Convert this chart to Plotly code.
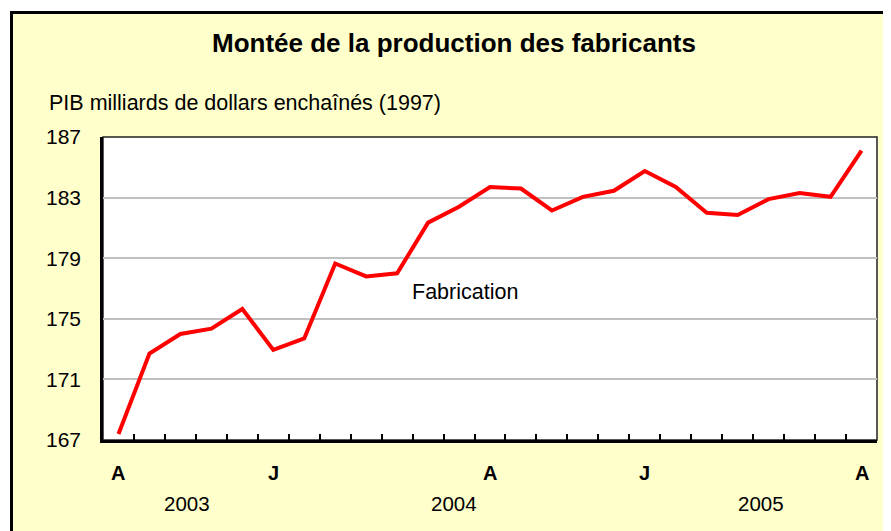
import plotly.graph_objects as go

# ---- data ----
months = ["2003-04", "2003-05", "2003-06", "2003-07", "2003-08", "2003-09", "2003-10",
          "2003-11", "2003-12", "2004-01", "2004-02", "2004-03", "2004-04", "2004-05",
          "2004-06", "2004-07", "2004-08", "2004-09", "2004-10", "2004-11", "2004-12",
          "2005-01", "2005-02", "2005-03", "2005-04"]
fabrication = [167.4, 172.7, 174.0, 174.35, 175.65, 172.95, 173.7, 178.65, 177.8, 178.0,
               181.35, 182.4, 183.7, 183.6, 182.15, 183.05, 183.45, 184.75, 183.7, 182.0,
               181.85, 182.9, 183.3, 183.05, 186.1]
month_letters = ["A", "J", "A", "J", "A"]
month_letter_at = ["2003-04", "2003-09", "2004-04", "2004-09", "2005-04"]
years = ["2003", "2004", "2005"]
year_pos = [2.2, 10.85, 20.75]
y_ticks = [167, 171, 175, 179, 183, 187]

FONT = "Liberation Sans, Arial, sans-serif"
OFF = 8  # default page body margin
W, H = 891 - OFF, 531 - OFF
ML, MT = 103 - OFF, 137 - OFF
PW, PH = 774, 303
MR, MB = W - ML - PW, H - MT - PH


def px_x(p):
    return (p - OFF - ML) / PW


def px_y(p):
    return (MT + PH - (p - OFF)) / PH


fig = go.Figure()
fig.add_trace(go.Scatter(x=months, y=fabrication, mode="lines",
                         line=dict(color="#FF0000", width=4), showlegend=False,
                         hoverinfo="skip"))

shapes = [
    dict(type="rect", xref="paper", yref="paper", layer="below",
         x0=px_x(11.5), x1=px_x(905), y0=px_y(545), y1=px_y(12.5),
         fillcolor="#FFFFCC", line=dict(color="black", width=3)),
    dict(type="rect", xref="paper", yref="paper", layer="below",
         x0=0, x1=1, y0=0, y1=1, fillcolor="white",
         line=dict(color="#222222", width=1.5)),
]

annotations = [
    dict(text="<b>Montée de la production des fabricants</b>", xref="paper", yref="paper",
         x=px_x(454), y=px_y(43), showarrow=False, xanchor="center", yanchor="middle",
         font=dict(family=FONT, size=26, color="black")),
    dict(text="PIB milliards de dollars enchaînés (1997)", xref="paper", yref="paper",
         x=px_x(47), y=px_y(103), showarrow=False, xanchor="left", yanchor="middle",
         font=dict(family=FONT, size=21.5, color="black")),
    dict(text="Fabrication", xref="x", yref="y", x=11.18, y=176.77, showarrow=False,
         xanchor="center", yanchor="middle",
         font=dict(family=FONT, size=21.5, color="black")),
]
for lab, pos in zip(month_letters, month_letter_at):
    annotations.append(dict(text="<b>" + lab + "</b>", xref="x", yref="paper", x=pos,
                            y=px_y(473), showarrow=False, xanchor="center",
                            yanchor="middle",
                            font=dict(family=FONT, size=20, color="black")))
for lab, pos in zip(years, year_pos):
    annotations.append(dict(text=lab, xref="x", yref="paper", x=pos, y=px_y(503),
                            showarrow=False, xanchor="center", yanchor="middle",
                            font=dict(family=FONT, size=20.5, color="black")))

fig.update_layout(
    width=W, height=H, margin=dict(l=ML, r=MR, t=MT, b=MB, pad=0),
    paper_bgcolor="white", plot_bgcolor="rgba(0,0,0,0)",
    shapes=shapes, annotations=annotations,
    xaxis=dict(type="category", categoryorder="array", categoryarray=months,
               range=[-0.5, len(months) - 0.5], tickson="boundaries", dtick=1,
               ticks="inside", ticklen=6, tickwidth=1.5, tickcolor="black",
               showticklabels=False, showgrid=False, zeroline=False,
               showline=True, linecolor="black", linewidth=3),
    yaxis=dict(range=[167, 187], tickvals=y_ticks, ticktext=[str(v) for v in y_ticks],
               showgrid=True, gridcolor="#C0C0C0", gridwidth=2, zeroline=False,
               showline=True, linecolor="black", linewidth=2.5, ticks="",
               ticklabelstandoff=15,
               tickfont=dict(family=FONT, size=21, color="black")),
)

fig.write_html("out.html")
